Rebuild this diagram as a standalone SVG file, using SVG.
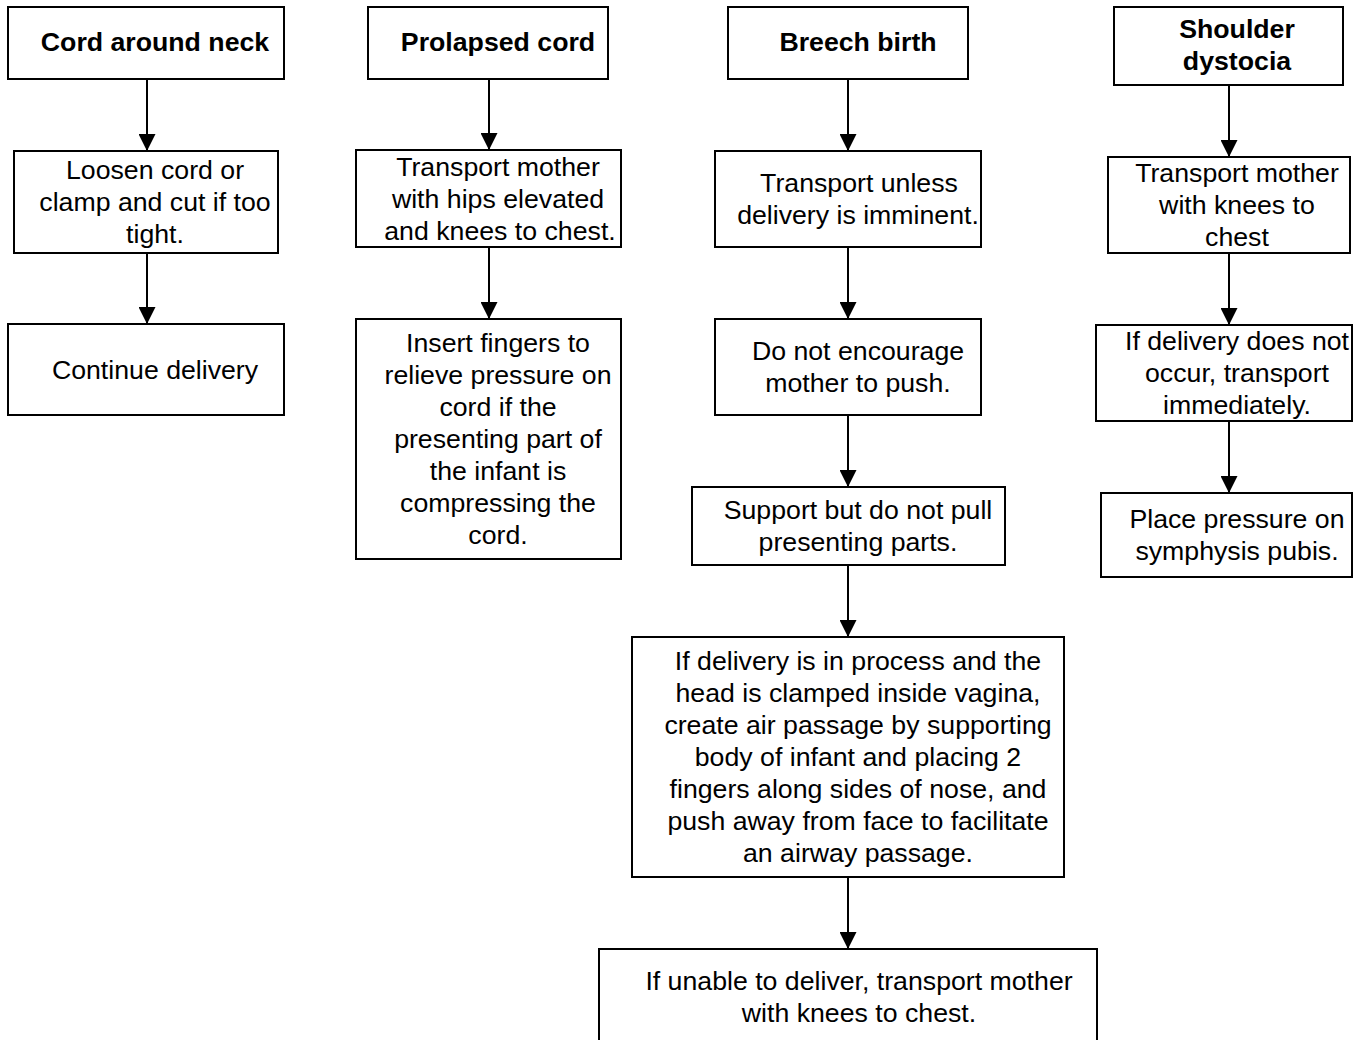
<svg xmlns="http://www.w3.org/2000/svg" width="1354" height="1040" viewBox="0 0 1354 1040">
<style>
.box{fill:#fff;stroke:#000;stroke-width:2}
.t{font-family:"Liberation Sans",Arial,sans-serif;font-size:26.7px;fill:#000;text-anchor:middle}
.b{font-weight:bold}
.c{stroke:#000;stroke-width:2;fill:none;marker-end:url(#ah)}
</style>
<defs>
<marker id="ah" markerUnits="userSpaceOnUse" markerWidth="17" markerHeight="17" refX="17" refY="8.5" orient="auto" viewBox="0 0 17 17">
<path d="M0,0 L17,8.5 L0,17 z" fill="#000"/>
</marker>
</defs>
<rect width="1354" height="1040" fill="#fff"/>
<g id="connectors">
<line class="c" x1="147" y1="79" x2="147" y2="151"/>
<line class="c" x1="147" y1="253" x2="147" y2="324"/>
<line class="c" x1="489" y1="79" x2="489" y2="150"/>
<line class="c" x1="489" y1="247" x2="489" y2="319"/>
<line class="c" x1="848" y1="79" x2="848" y2="151"/>
<line class="c" x1="848" y1="247" x2="848" y2="319"/>
<line class="c" x1="848" y1="415" x2="848" y2="487"/>
<line class="c" x1="848" y1="565" x2="848" y2="637"/>
<line class="c" x1="848" y1="877" x2="848" y2="949"/>
<line class="c" x1="1229" y1="85" x2="1229" y2="157"/>
<line class="c" x1="1229" y1="253" x2="1229" y2="325"/>
<line class="c" x1="1229" y1="421" x2="1229" y2="493"/>
</g>
<g id="a1"><rect class="box" x="8" y="7" width="276" height="72"/><text class="t b" x="155" y="51">Cord around neck</text></g>
<g id="a2"><rect class="box" x="14" y="151" width="264" height="102"/><text class="t" x="155"><tspan x="155" y="179">Loosen cord or</tspan><tspan x="155" y="211">clamp and cut if too</tspan><tspan x="155" y="243">tight.</tspan></text></g>
<g id="a3"><rect class="box" x="8" y="324" width="276" height="91"/><text class="t" x="155" y="379">Continue delivery</text></g>
<g id="b1"><rect class="box" x="368" y="7" width="240" height="72"/><text class="t b" x="498" y="51">Prolapsed cord</text></g>
<g id="b2"><rect class="box" x="356" y="150" width="265" height="97"/><text class="t"><tspan x="498" y="176">Transport mother</tspan><tspan x="498" y="208">with hips elevated</tspan><tspan x="500" y="240">and knees to chest.</tspan></text></g>
<g id="b3"><rect class="box" x="356" y="319" width="265" height="240"/><text class="t"><tspan x="498" y="352">Insert fingers to</tspan><tspan x="498" y="384">relieve pressure on</tspan><tspan x="498" y="416">cord if the</tspan><tspan x="498" y="448">presenting part of</tspan><tspan x="498" y="480">the infant is</tspan><tspan x="498" y="512">compressing the</tspan><tspan x="498" y="544">cord.</tspan></text></g>
<g id="c1"><rect class="box" x="728" y="7" width="240" height="72"/><text class="t b" x="858" y="51">Breech birth</text></g>
<g id="c2"><rect class="box" x="715" y="151" width="266" height="96"/><text class="t"><tspan x="859" y="192">Transport unless</tspan><tspan x="858" y="224">delivery is imminent.</tspan></text></g>
<g id="c3"><rect class="box" x="715" y="319" width="266" height="96"/><text class="t"><tspan x="858" y="360">Do not encourage</tspan><tspan x="858" y="392">mother to push.</tspan></text></g>
<g id="c4"><rect class="box" x="692" y="487" width="313" height="78"/><text class="t"><tspan x="858" y="519">Support but do not pull</tspan><tspan x="858" y="551">presenting parts.</tspan></text></g>
<g id="c5"><rect class="box" x="632" y="637" width="432" height="240"/><text class="t"><tspan x="858" y="670">If delivery is in process and the</tspan><tspan x="858" y="702">head is clamped inside vagina,</tspan><tspan x="858" y="734">create air passage by supporting</tspan><tspan x="858" y="766">body of infant and placing 2</tspan><tspan x="858" y="798">fingers along sides of nose, and</tspan><tspan x="858" y="830">push away from face to facilitate</tspan><tspan x="858" y="862">an airway passage.</tspan></text></g>
<g id="c6"><rect class="box" x="599" y="949" width="498" height="100"/><text class="t"><tspan x="859" y="990">If unable to deliver, transport mother</tspan><tspan x="859" y="1022">with knees to chest.</tspan></text></g>
<g id="d1"><rect class="box" x="1114" y="7" width="229" height="78"/><text class="t b"><tspan x="1237" y="38">Shoulder</tspan><tspan x="1237" y="70">dystocia</tspan></text></g>
<g id="d2"><rect class="box" x="1108" y="157" width="242" height="96"/><text class="t"><tspan x="1237" y="182">Transport mother</tspan><tspan x="1237" y="214">with knees to</tspan><tspan x="1237" y="246">chest</tspan></text></g>
<g id="d3"><rect class="box" x="1096" y="325" width="256" height="96"/><text class="t"><tspan x="1237" y="350">If delivery does not</tspan><tspan x="1237" y="382">occur, transport</tspan><tspan x="1237" y="414">immediately.</tspan></text></g>
<g id="d4"><rect class="box" x="1101" y="493" width="251" height="84"/><text class="t"><tspan x="1237" y="528">Place pressure on</tspan><tspan x="1237" y="560">symphysis pubis.</tspan></text></g>
</svg>
